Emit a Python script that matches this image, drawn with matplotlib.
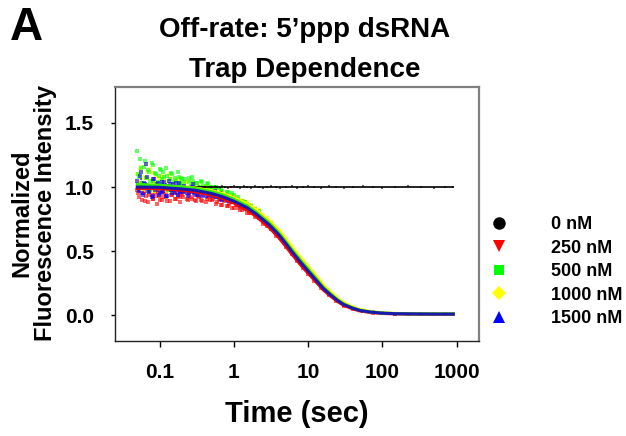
import matplotlib
matplotlib.use("Agg")
import matplotlib.pyplot as plt
from matplotlib.lines import Line2D
from matplotlib.ticker import NullLocator, FixedLocator, FixedFormatter

plt.rcParams['font.family'] = ['Liberation Sans', 'DejaVu Sans']
plt.rcParams['font.weight'] = 'bold'

# ---------------- data ----------------
series_labels = ["0 nM", "250 nM", "500 nM", "1000 nM", "1500 nM"]

scatter_t = [0.05, 0.053, 0.056, 0.06, 0.063, 0.067, 0.071, 0.075, 0.08, 0.085, 0.09, 0.095, 0.1,
             0.106, 0.112, 0.12, 0.127, 0.135, 0.143, 0.15, 0.16, 0.17, 0.18, 0.19, 0.2,
             0.215, 0.23, 0.245, 0.26, 0.28, 0.3, 0.32, 0.34, 0.37, 0.4, 0.43, 0.46,
             0.5, 0.55, 0.6, 0.65, 0.7, 0.76, 0.83, 0.9, 1.0,
             1.1, 1.2, 1.35, 1.5, 1.7, 1.9, 2.2, 2.5, 2.8,
             3.2, 3.7, 4.2, 5, 6, 7, 8.5, 10,
             12, 15, 19, 24, 30, 40, 55, 75, 100, 150, 220, 330, 500, 700, 900]

scatter_0 = [1.03, 0.97, 1.06, 0.99, 0.95, 1.02, 1.00, 0.96, 1.04, 0.98, 1.01, 0.97, 1.03,
             1.00, 0.98, 1.02, 0.97, 1.01, 0.99, 1.03, 0.98, 1.00, 0.97, 1.02, 0.99,
             1.01, 0.98, 1.00, 0.99, 1.02, 0.98, 1.00, 1.01, 0.99, 0.98, 1.01, 1.00,
             0.99, 1.01, 1.00, 0.99, 1.01, 1.00, 0.99, 1.00, 1.01,
             1.00, 0.995, 1.005, 1.00, 0.995, 1.005, 1.00, 0.995, 1.00,
             1.005, 1.00, 0.995, 1.00, 1.005, 0.995, 1.00, 1.005,
             1.00, 0.995, 1.005, 1.00, 0.995, 1.00, 1.005, 1.00, 0.995, 1.00, 1.005, 1.00, 0.995, 1.00, 1.0]

scatter_250 = [0.98, 0.92, 1.03, 0.95, 0.89, 1.00, 0.94, 0.97, 0.91, 1.01, 0.93, 0.96, 0.90,
               0.99, 0.92, 0.96, 0.89, 1.00, 0.94, 0.97, 0.91, 0.95, 0.98, 0.92, 0.94,
               0.96, 0.91, 0.95, 0.92, 0.97, 0.90, 0.94, 0.92, 0.89, 0.95, 0.91, 0.93,
               0.90, 0.93, 0.88, 0.91, 0.86, 0.90, 0.85, 0.88, 0.84,
               0.86, 0.82, 0.84, 0.80, 0.80, 0.77, 0.76, 0.71, 0.70,
               0.67, 0.62, 0.60, 0.53, 0.48, 0.42, 0.37, 0.32,
               0.27, 0.21, 0.155, 0.11, 0.075, 0.05, 0.03, 0.022, 0.015, 0.012, 0.01, 0.011, 0.009, 0.01, 0.009]

scatter_500 = [1.28, 1.08, 1.15, 1.02, 1.20, 0.99, 1.12, 1.05, 1.17, 1.00, 1.10, 1.04, 1.14,
               1.06, 1.12, 1.01, 1.09, 0.98, 1.11, 1.04, 1.07, 1.00, 1.08, 1.03, 1.06,
               1.04, 0.99, 1.07, 1.01, 1.05, 0.98, 1.03, 1.00, 1.04, 0.97, 1.02, 0.99,
               1.00, 0.96, 0.99, 0.94, 0.97, 0.93, 0.96, 0.92, 0.94,
               0.91, 0.89, 0.88, 0.87, 0.85, 0.83, 0.81, 0.77, 0.74,
               0.72, 0.67, 0.64, 0.57, 0.52, 0.46, 0.41, 0.36,
               0.30, 0.235, 0.18, 0.13, 0.09, 0.06, 0.036, 0.025, 0.018, 0.013, 0.011, 0.01, 0.011, 0.009, 0.01]

scatter_1000 = [1.10, 1.02, 1.16, 0.98, 1.07, 1.12, 1.00, 1.14, 1.04, 0.97, 1.09, 1.01, 1.06,
                1.08, 1.00, 1.05, 0.97, 1.10, 1.02, 0.99, 1.06, 1.01, 1.04, 0.98, 1.03,
                1.02, 0.97, 1.05, 0.99, 1.01, 0.96, 1.03, 0.98, 1.00, 0.96, 1.01, 0.97,
                0.98, 0.95, 0.97, 0.93, 0.96, 0.92, 0.94, 0.91, 0.93,
                0.91, 0.90, 0.89, 0.88, 0.86, 0.84, 0.82, 0.78, 0.76,
                0.73, 0.68, 0.655, 0.59, 0.53, 0.475, 0.425, 0.37,
                0.315, 0.25, 0.19, 0.14, 0.10, 0.065, 0.04, 0.028, 0.019, 0.014, 0.012, 0.011, 0.01, 0.011, 0.01]

scatter_1500 = [1.05, 0.97, 1.12, 0.94, 1.02, 1.08, 0.96, 1.00, 0.93, 1.06, 0.99, 1.03, 0.95,
                1.04, 0.97, 1.01, 0.93, 1.05, 0.98, 1.02, 0.95, 1.00, 1.03, 0.96, 0.99,
                1.01, 0.95, 0.99, 0.96, 1.02, 0.94, 0.98, 0.96, 0.93, 0.99, 0.95, 0.97,
                0.93, 0.97, 0.92, 0.95, 0.90, 0.94, 0.89, 0.92, 0.88,
                0.89, 0.85, 0.87, 0.83, 0.83, 0.80, 0.79, 0.74, 0.73,
                0.70, 0.65, 0.63, 0.55, 0.51, 0.44, 0.40, 0.34,
                0.29, 0.23, 0.165, 0.125, 0.08, 0.058, 0.03, 0.026, 0.015, 0.014, 0.011, 0.012, 0.009, 0.011, 0.01]

# second set of early-time readings (dense noisy region)
scatter_t2 = [0.051, 0.054, 0.058, 0.061, 0.065, 0.069, 0.073, 0.078, 0.082, 0.087, 0.092, 0.098,
              0.103, 0.109, 0.116, 0.123, 0.131, 0.139, 0.147, 0.155, 0.165, 0.175, 0.185, 0.195,
              0.207, 0.222, 0.237, 0.252, 0.27, 0.29, 0.31, 0.33, 0.355, 0.385, 0.415, 0.445, 0.48,
              0.525, 0.575, 0.625, 0.675, 0.73, 0.795, 0.865, 0.95, 1.05, 1.15, 1.28, 1.42, 1.6]
scatter2_250 = [0.95, 1.01, 0.90, 0.97, 0.93, 0.88, 0.99, 0.94, 0.91, 0.96, 0.87, 0.93,
                0.97, 0.90, 0.95, 0.92, 0.98, 0.89, 0.94, 0.96, 0.91, 0.93, 0.88, 0.95,
                0.92, 0.97, 0.90, 0.94, 0.91, 0.96, 0.89, 0.93, 0.90, 0.94, 0.88, 0.92, 0.90,
                0.91, 0.87, 0.90, 0.86, 0.89, 0.85, 0.87, 0.84, 0.86, 0.84, 0.82, 0.83, 0.80]
scatter2_500 = [1.10, 1.22, 1.03, 1.16, 1.07, 1.13, 0.98, 1.19, 1.05, 1.11, 1.01, 1.09,
                1.13, 1.02, 1.08, 1.15, 1.00, 1.06, 1.10, 0.99, 1.05, 1.12, 1.02, 1.07,
                1.01, 1.06, 0.98, 1.04, 1.08, 1.00, 1.03, 0.97, 1.05, 1.01, 0.98, 1.03, 1.00,
                0.97, 1.00, 0.95, 0.98, 0.94, 0.96, 0.93, 0.95, 0.91, 0.92, 0.89, 0.88, 0.86]
scatter2_1000 = [1.04, 1.13, 0.99, 1.08, 1.18, 1.01, 1.06, 0.97, 1.11, 1.03, 1.07, 0.99,
                 1.02, 1.09, 0.98, 1.05, 1.01, 1.07, 0.97, 1.04, 1.00, 1.06, 0.99, 1.02,
                 0.98, 1.04, 1.00, 0.97, 1.03, 0.99, 1.02, 0.96, 1.00, 0.98, 1.01, 0.95, 0.99,
                 0.96, 0.98, 0.94, 0.97, 0.93, 0.95, 0.92, 0.94, 0.91, 0.90, 0.89, 0.87, 0.86]
scatter2_1500 = [0.99, 1.09, 0.95, 1.03, 1.18, 0.97, 1.01, 0.92, 1.06, 0.98, 1.02, 0.94,
                 1.00, 0.96, 1.04, 0.93, 0.99, 1.02, 0.95, 0.98, 1.03, 0.94, 0.97, 1.00,
                 0.96, 0.99, 0.93, 0.97, 1.00, 0.95, 0.98, 0.94, 0.96, 0.99, 0.93, 0.96, 0.94,
                 0.95, 0.92, 0.94, 0.91, 0.93, 0.90, 0.91, 0.88, 0.89, 0.87, 0.86, 0.85, 0.83]

fit_t = [0.05, 0.1, 0.2, 0.3, 0.5, 0.7, 1, 1.5, 2, 3, 4, 5, 6, 8, 10, 13, 16, 20, 25, 30,
         40, 50, 70, 100, 150, 200, 300, 500, 900]
fit_0 = [1.0] * len(fit_t)
fit_250 = [0.99, 0.988, 0.975, 0.963, 0.938, 0.912, 0.875, 0.822, 0.77, 0.683, 0.607, 0.537, 0.478,
           0.39, 0.327, 0.255, 0.198, 0.15, 0.107, 0.078, 0.05, 0.034, 0.022, 0.015, 0.011, 0.01,
           0.009, 0.008, 0.008]
fit_500 = [1.02, 1.015, 1.0, 0.99, 0.965, 0.94, 0.905, 0.855, 0.805, 0.72, 0.645, 0.575, 0.515,
           0.425, 0.36, 0.283, 0.22, 0.168, 0.121, 0.09, 0.058, 0.04, 0.026, 0.018, 0.014, 0.012,
           0.011, 0.011, 0.011]
fit_1000 = [1.01, 1.008, 1.0, 0.993, 0.972, 0.95, 0.918, 0.87, 0.822, 0.738, 0.665, 0.597, 0.537,
            0.447, 0.381, 0.303, 0.237, 0.183, 0.133, 0.099, 0.065, 0.045, 0.029, 0.02, 0.015,
            0.013, 0.012, 0.012, 0.012]
fit_1500 = [1.00, 0.998, 0.985, 0.975, 0.95, 0.925, 0.89, 0.84, 0.79, 0.705, 0.63, 0.56, 0.50,
            0.41, 0.345, 0.27, 0.21, 0.16, 0.115, 0.085, 0.055, 0.038, 0.025, 0.017, 0.013, 0.012,
            0.011, 0.010, 0.010]

x_ticks = [0.1, 1, 10, 100, 1000]
x_ticklabels = ["0.1", "1", "10", "100", "1000"]
y_ticks = [0.0, 0.5, 1.0, 1.5]
y_ticklabels = ["0.0", "0.5", "1.0", "1.5"]

# ---------------- styling ----------------
colors = ["#000000", "#ff0000", "#00ff00", "#ffff00", "#0000ff"]
line_colors = ["#000000", "#ff0000", "#33ee00", "#ffff00", "#1a1ab0"]
markers = ["o", "v", "s", "D", "^"]
marker_sizes = [9, 8, 7, 7, 8]

fig = plt.figure(figsize=(6.26, 4.36), dpi=100)
ax = fig.add_axes([115 / 626, 1 - 341 / 436, 364 / 626, 254 / 436])

scatters = [scatter_0, scatter_250, scatter_500, scatter_1000, scatter_1500]
scatters2 = [None, scatter2_250, scatter2_500, scatter2_1000, scatter2_1500]
fits = [fit_0, fit_250, fit_500, fit_1000, fit_1500]

ax.plot(scatter_t, scatter_0, linestyle="none", marker="s", markersize=1.8,
        markeredgewidth=0, color=colors[0], alpha=0.6)
for idx in [1, 3, 2, 4]:
    ax.plot(scatter_t, scatters[idx], linestyle="none", marker="s", markersize=2.2,
            markeredgewidth=0, color=colors[idx], alpha=0.6)
    ax.plot(scatter_t2, scatters2[idx], linestyle="none", marker="s", markersize=2.2,
            markeredgewidth=0, color=colors[idx], alpha=0.6)

# fit curves
ax.plot(fit_t, fit_0, color=line_colors[0], lw=1.2, zorder=3)
for idx in [3, 1, 2, 4]:
    ax.plot(fit_t, fits[idx], color=line_colors[idx], lw=2.2, zorder=3)

ax.set_xscale("log")
ax.set_xlim(0.025, 2000)
ax.set_ylim(-0.2, 1.78)
ax.xaxis.set_major_locator(FixedLocator(x_ticks))
ax.xaxis.set_major_formatter(FixedFormatter(x_ticklabels))
ax.xaxis.set_minor_locator(NullLocator())
ax.yaxis.set_major_locator(FixedLocator(y_ticks))
ax.yaxis.set_major_formatter(FixedFormatter(y_ticklabels))

ax.tick_params(axis="x", direction="out", length=4, width=1, pad=12, labelsize=15)
ax.tick_params(axis="y", direction="out", length=3, width=1, pad=12, labelsize=15)
for lab in ax.get_xticklabels() + ax.get_yticklabels():
    lab.set_fontweight("bold")

ax.spines["left"].set_color("#222222")
ax.spines["bottom"].set_color("#222222")
ax.spines["left"].set_linewidth(1.0)
ax.spines["bottom"].set_linewidth(1.0)
ax.spines["top"].set_color("#808080")
ax.spines["right"].set_color("#808080")
ax.spines["top"].set_linewidth(1.6)
ax.spines["right"].set_linewidth(1.6)

# axis labels
fig.text(297 / 626, 1 - 414 / 436, "Time (sec)", ha="center", va="center",
         fontsize=21, fontweight="bold")
fig.text(34 / 626, 1 - 213 / 436, "Normalized\nFluorescence Intensity", ha="center",
         va="center", rotation=90, fontsize=17, fontweight="bold", linespacing=1.05)

# titles
fig.text(305 / 626, 1 - 30 / 436, "Off-rate: 5\u2019ppp dsRNA", ha="center", va="center",
         fontsize=20, fontweight="bold")
fig.text(305 / 626, 1 - 70 / 436, "Trap Dependence", ha="center", va="center",
         fontsize=20, fontweight="bold")
fig.text(10 / 626, 1 - 28 / 436, "A", ha="left", va="center",
         fontsize=33, fontweight="bold")

# legend
handles = [Line2D([], [], linestyle="none", marker=m, markersize=s, color=c,
                  markeredgewidth=0)
           for m, s, c in zip(markers, marker_sizes, colors)]
leg = fig.legend(handles, series_labels, loc="upper left",
                 bbox_to_anchor=(490 / 626, 1 - 216 / 436), frameon=False,
                 handlelength=1.0, handletextpad=2.4, labelspacing=0.36,
                 borderaxespad=0, borderpad=0,
                 prop={"size": 13, "weight": "bold"})

fig.savefig("out.png", dpi=100)
